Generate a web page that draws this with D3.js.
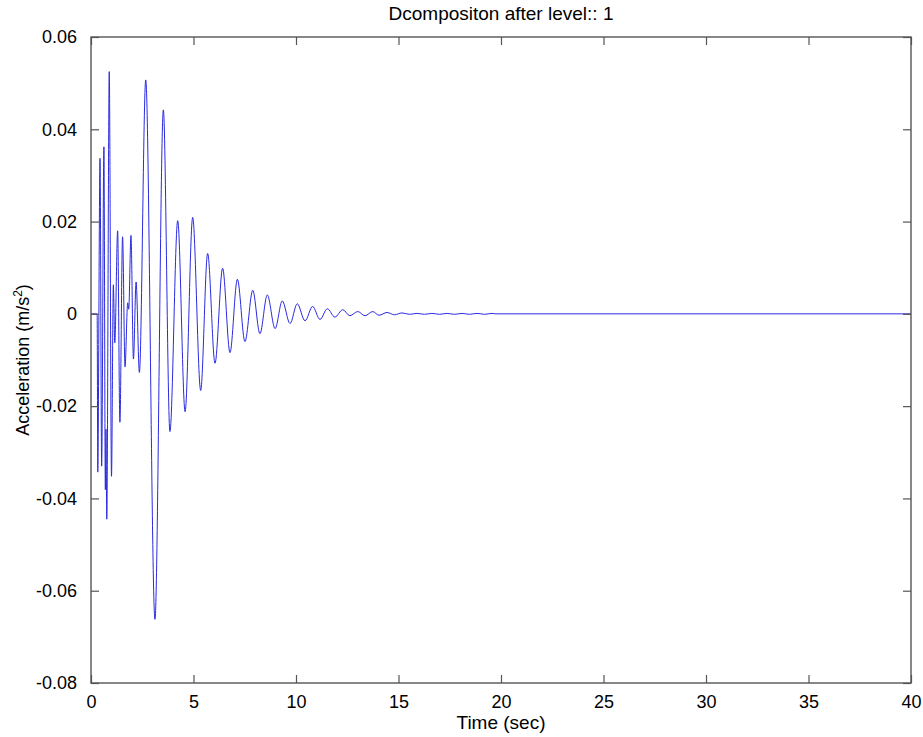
<!DOCTYPE html>
<html>
<head>
<meta charset="utf-8">
<script src="https://cdn.jsdelivr.net/npm/d3@7"></script>
<style>
  body { margin: 0; background: #fff; }
  text { font-family: "Liberation Sans", Arial, sans-serif; }
</style>
</head>
<body>
<div id="container"></div>
<script>
// turning points of the signal (time in s, acceleration in m/s^2)
const times = [0, 0.30, 0.33, 0.44, 0.52, 0.63, 0.70, 0.73, 0.77, 0.89, 1.00, 1.09, 1.16, 1.30, 1.41,
  1.54, 1.66, 1.79, 1.84, 1.95, 2.07, 2.20, 2.36, 2.67, 3.12, 3.53, 3.85, 4.23, 4.59, 4.96, 5.35,
  5.69, 6.05, 6.42, 6.78, 7.14, 7.51, 7.89, 8.24, 8.60, 8.98, 9.33, 9.71, 10.06, 10.44, 10.81,
  11.17, 11.53, 11.90, 12.28, 12.63, 13.01, 13.37, 13.74, 14.05, 14.44, 14.80, 15.17, 15.54,
  15.90, 16.27, 16.63, 17.00, 17.37, 17.73, 18.10, 18.46, 18.83, 19.20, 19.56, 19.75, 40]
const accel = [0, 0, -0.0343, 0.0337, -0.0330, 0.0362, -0.0381, -0.0250, -0.0445, 0.0525, -0.0352,
  0.0063, -0.0063, 0.0180, -0.0235, 0.0167, -0.0115, 0.0024, 0.0010, 0.0170, -0.0098, 0.0069,
  -0.0127, 0.0507, -0.0662, 0.0442, -0.0255, 0.0202, -0.0212, 0.0209, -0.0166, 0.0131, -0.0107,
  0.0099, -0.0084, 0.0075, -0.0060, 0.0051, -0.0043, 0.0041, -0.0032, 0.0028, -0.0021, 0.0022,
  -0.0015, 0.0016, -0.0012, 0.0011, -0.0007, 0.0009, -0.0004, 0.0005, -0.0004, 0.0005, -0.0003,
  0.0003, -0.0002, 0.0002, -0.0001, 0.0001, -0.0001, 0.0001, -0.0001, 0.0001, -0.0001, 0.0001,
  -0.0001, 0.0001, -0.0001, 0.0001, 0, 0]

const xTicks = [0, 5, 10, 15, 20, 25, 30, 35, 40]
const yTicks = [-0.08, -0.06, -0.04, -0.02, 0, 0.02, 0.04, 0.06]
const yTickLabels = ["-0.08", "-0.06", "-0.04", "-0.02", "0", "0.02", "0.04", "0.06"]

const width = 923
const height = 737
const margin = {top: 37, right: 12, bottom: 54, left: 91}

const svg = d3.select("#container").append("svg")
    .attr("width", width)
    .attr("height", height)

const x = d3.scaleLinear().domain([0, 40]).range([margin.left, width - margin.right])
const y = d3.scaleLinear().domain([-0.08, 0.06]).range([height - margin.bottom, margin.top])

const data = times.map((t, i) => ({t: t, a: accel[i]}))

// signal
const line = d3.line()
    .x(d => x(d.t))
    .y(d => y(d.a))
    .curve(d3.curveMonotoneX)

svg.append("path")
    .datum(data)
    .attr("fill", "none")
    .attr("stroke", "#2a2ae0")
    .attr("stroke-width", 1)
    .attr("d", line)

// axes, ticks pointing inward on all four sides
const tickLen = 8
const axisColor = "#555"

svg.append("g")
    .attr("transform", `translate(0,${y.range()[0]})`)
    .call(d3.axisBottom(x).tickValues(xTicks).tickSize(-tickLen).tickPadding(12).tickFormat(d3.format("d")))
svg.append("g")
    .attr("transform", `translate(${x.range()[0]},0)`)
    .call(d3.axisLeft(y).tickValues(yTicks).tickSize(-tickLen).tickPadding(14)
        .tickFormat((d, i) => yTickLabels[i]))
svg.append("g")
    .attr("transform", `translate(0,${y.range()[1]})`)
    .call(d3.axisTop(x).tickValues(xTicks).tickSize(-tickLen).tickFormat(""))
svg.append("g")
    .attr("transform", `translate(${x.range()[1]},0)`)
    .call(d3.axisRight(y).tickValues(yTicks).tickSize(-tickLen).tickFormat(""))

svg.selectAll(".domain").remove()
svg.selectAll(".tick line").attr("stroke", axisColor).attr("stroke-width", 1.2)
svg.selectAll(".tick text")
    .attr("fill", "#000")
    .style("font-size", "18px")

svg.append("rect")
    .attr("x", x.range()[0])
    .attr("y", y.range()[1])
    .attr("width", x.range()[1] - x.range()[0])
    .attr("height", y.range()[0] - y.range()[1])
    .attr("fill", "none")
    .attr("stroke", axisColor)
    .attr("stroke-width", 1.4)

// labels
svg.append("text")
    .attr("x", (x.range()[0] + x.range()[1]) / 2)
    .attr("y", 20)
    .attr("text-anchor", "middle")
    .style("font-size", "19px")
    .text("Dcompositon after level:: 1")

svg.append("text")
    .attr("x", (x.range()[0] + x.range()[1]) / 2)
    .attr("y", 729)
    .attr("text-anchor", "middle")
    .style("font-size", "19px")
    .text("Time (sec)")

const ylab = svg.append("text")
    .attr("transform", `translate(29,${(y.range()[0] + y.range()[1]) / 2}) rotate(-90)`)
    .attr("text-anchor", "middle")
    .style("font-size", "18px")
ylab.append("tspan").text("Acceleration (m/s")
ylab.append("tspan").attr("dy", -7).style("font-size", "12px").text("2")
ylab.append("tspan").attr("dy", 7).text(")")
</script>
</body>
</html>
